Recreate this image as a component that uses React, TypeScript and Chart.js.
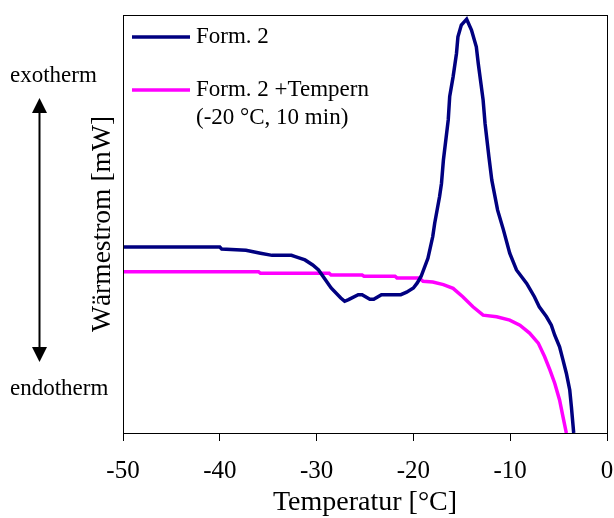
import React, { useEffect, useRef } from "react";
import { Chart, registerables } from "chart.js";

Chart.register(...registerables);

const FONT = '"Liberation Serif", "Times New Roman", serif';

// X ticks
const xMin = -50;
const xMax = 0;
const xStep = 10;

// Series 1: Form. 2 (navy)
const form2Temp = [-50, -40, -39.8, -37.3, -35.8, -34.6, -32.6, -32.2, -31.2, -30.4, -29.8, -29.2, -28.5, -27.5, -27.1, -26.7, -25.7, -25.3, -24.5, -24.1, -23.3, -21.3, -20.7, -20.0, -19.6, -19.2, -18.5, -18.0, -17.8, -17.3, -17.1, -16.9, -16.4, -16.25, -15.9, -15.55, -15.4, -15.05, -14.5, -14.0, -13.5, -13.3, -12.8, -12.6, -12.2, -11.9, -11.3, -10.7, -10.05, -9.35, -8.3, -7.5, -7.0, -6.25, -5.75, -5.4, -4.9, -4.55, -4.2, -3.85, -3.68, -3.44];
const form2Flow = [44.5, 44.5, 44.0, 43.7, 43.0, 42.5, 42.5, 42.2, 41.4, 40.2, 39.0, 37.0, 34.7, 32.3, 31.5, 31.9, 33.1, 33.1, 32.0, 32.0, 33.1, 33.1, 33.7, 34.7, 35.9, 37.5, 41.8, 47.0, 50.2, 56.5, 59.7, 65.3, 74.9, 80.5, 85.2, 90.8, 94.8, 97.6, 99.0, 96.4, 92.4, 88.4, 79.7, 74.1, 66.1, 60.5, 53.3, 48.6, 43.0, 39.0, 35.8, 32.6, 30.2, 27.8, 25.8, 23.4, 20.6, 17.5, 14.3, 10.3, 6.3, 0];

// Series 2: Form. 2 + Tempern (magenta)
const temperTemp = [-50, -36.0, -35.8, -28.7, -28.5, -25.3, -25.1, -21.9, -21.7, -19.4, -19.0, -18.0, -16.9, -15.9, -14.9, -13.85, -12.8, -11.4, -10.05, -9.0, -8.0, -7.1, -6.45, -5.9, -5.4, -4.9, -4.55, -4.2];
const temperFlow = [38.6, 38.6, 38.2, 38.2, 37.8, 37.8, 37.5, 37.5, 37.1, 37.1, 36.3, 36.1, 35.5, 34.6, 32.6, 30.2, 28.2, 27.8, 27.0, 25.8, 23.9, 21.5, 18.3, 15.1, 11.9, 7.9, 3.9, 0];

const seriesLabels = [["Form. 2"], ["Form. 2 +Tempern", "(-20 °C, 10 min)"]];
const seriesColors = ["#000080", "#FF00FF"];

const xTitle = "Temperatur [°C]";
const yTitle = "Wärmestrom [mW]";
const exoLabel = "exotherm";
const endoLabel = "endotherm";

const decorPlugin = {
  id: "decor",
  afterDraw(chart: any) {
    const { ctx, chartArea } = chart;
    ctx.save();
    // frame
    ctx.strokeStyle = "#000";
    ctx.lineWidth = 1;
    ctx.strokeRect(
      Math.round(chartArea.left) + 0.5,
      Math.round(chartArea.top) + 0.5,
      Math.round(chartArea.right - chartArea.left),
      Math.round(chartArea.bottom - chartArea.top)
    );

    // legend
    const lx0 = chartArea.left + 9;
    const lx1 = chartArea.left + 67;
    const tx = chartArea.left + 73;
    const rows = [chartArea.top + 22, chartArea.top + 75];
    ctx.font = "23px " + FONT;
    ctx.fillStyle = "#000";
    ctx.textBaseline = "middle";
    ctx.textAlign = "left";
    chart.data.datasets.forEach((ds: any, i: number) => {
      const y = rows[i];
      ctx.strokeStyle = ds.borderColor;
      ctx.lineWidth = 3.5;
      ctx.beginPath();
      ctx.moveTo(lx0, y);
      ctx.lineTo(lx1, y);
      ctx.stroke();
      const lines = seriesLabels[i];
      lines.forEach((t: string, j: number) => {
        ctx.fillText(t, tx, y + j * 28);
      });
    });

    // exotherm / endotherm with double arrow
    ctx.fillStyle = "#000";
    ctx.textBaseline = "alphabetic";
    ctx.textAlign = "left";
    ctx.font = "23px " + FONT;
    ctx.fillText(exoLabel, 10, 82);
    ctx.fillText(endoLabel, 10, 395);

    const ax = 39.5;
    const top = 98;
    const bot = 362;
    ctx.strokeStyle = "#000";
    ctx.lineWidth = 2;
    ctx.beginPath();
    ctx.moveTo(ax, top + 10);
    ctx.lineTo(ax, bot - 10);
    ctx.stroke();
    ctx.beginPath();
    ctx.moveTo(ax, top);
    ctx.lineTo(ax - 7.5, top + 15);
    ctx.lineTo(ax + 7.5, top + 15);
    ctx.closePath();
    ctx.fill();
    ctx.beginPath();
    ctx.moveTo(ax, bot);
    ctx.lineTo(ax - 7.5, bot - 15);
    ctx.lineTo(ax + 7.5, bot - 15);
    ctx.closePath();
    ctx.fill();
    ctx.restore();
  },
};

export default function App() {
  const ref = useRef<HTMLCanvasElement | null>(null);

  useEffect(() => {
    if (!ref.current) return;
    Chart.defaults.font.family = FONT;
    Chart.defaults.color = "#000";
    const chart = new Chart(ref.current, {
      type: "line",
      data: {
        datasets: [
          {
            label: seriesLabels[0].join(" "),
            data: form2Temp.map((x, i) => ({ x, y: form2Flow[i] })),
            borderColor: seriesColors[0],
            backgroundColor: seriesColors[0],
            borderWidth: 3.5,
            pointRadius: 0,
            tension: 0,
          },
          {
            label: seriesLabels[1].join(" "),
            data: temperTemp.map((x, i) => ({ x, y: temperFlow[i] })),
            borderColor: seriesColors[1],
            backgroundColor: seriesColors[1],
            borderWidth: 3.5,
            pointRadius: 0,
            tension: 0,
          },
        ],
      },
      options: {
        responsive: false,
        animation: false,
        devicePixelRatio: 1,
        layout: { padding: { top: 15, right: 7, bottom: 0, left: 0 } },
        plugins: {
          legend: { display: false },
          tooltip: { enabled: false },
        },
        scales: {
          x: {
            type: "linear",
            min: xMin,
            max: xMax,
            ticks: {
              stepSize: xStep,
              font: { size: 25, family: FONT },
              color: "#000",
              padding: 15,
              maxRotation: 0,
              autoSkip: false,
            },
            grid: {
              display: true,
              drawOnChartArea: false,
              drawTicks: true,
              tickLength: 8,
              color: "#000",
            },
            border: { display: true, color: "#000", width: 1 },
            title: {
              display: true,
              text: xTitle,
              font: { size: 28, family: FONT, lineHeight: 1.1 },
              color: "#000",
              padding: { top: 0, bottom: 0 },
            },
            afterFit(scale: any) {
              scale.height = 85;
              scale.paddingLeft = 0;
              scale.paddingRight = 0;
            },
          },
          y: {
            type: "linear",
            min: 0,
            max: 100,
            ticks: { display: false },
            grid: { display: false },
            border: { display: true, color: "#000", width: 1 },
            title: {
              display: true,
              text: yTitle,
              font: { size: 27.5, family: FONT, lineHeight: 1 },
              color: "#000",
              padding: { top: 89, bottom: 0 },
            },
            afterFit(scale: any) {
              scale.width = 123;
              scale.paddingTop = 0;
              scale.paddingBottom = 0;
            },
          },
        },
      },
      plugins: [decorPlugin],
    } as any);
    return () => chart.destroy();
  }, []);

  return (
    <div style={{ position: "absolute", left: 0, top: 0, width: 614, height: 518, background: "#fff" }}>
      <canvas ref={ref} width={614} height={518} style={{ display: "block" }} />
    </div>
  );
}
